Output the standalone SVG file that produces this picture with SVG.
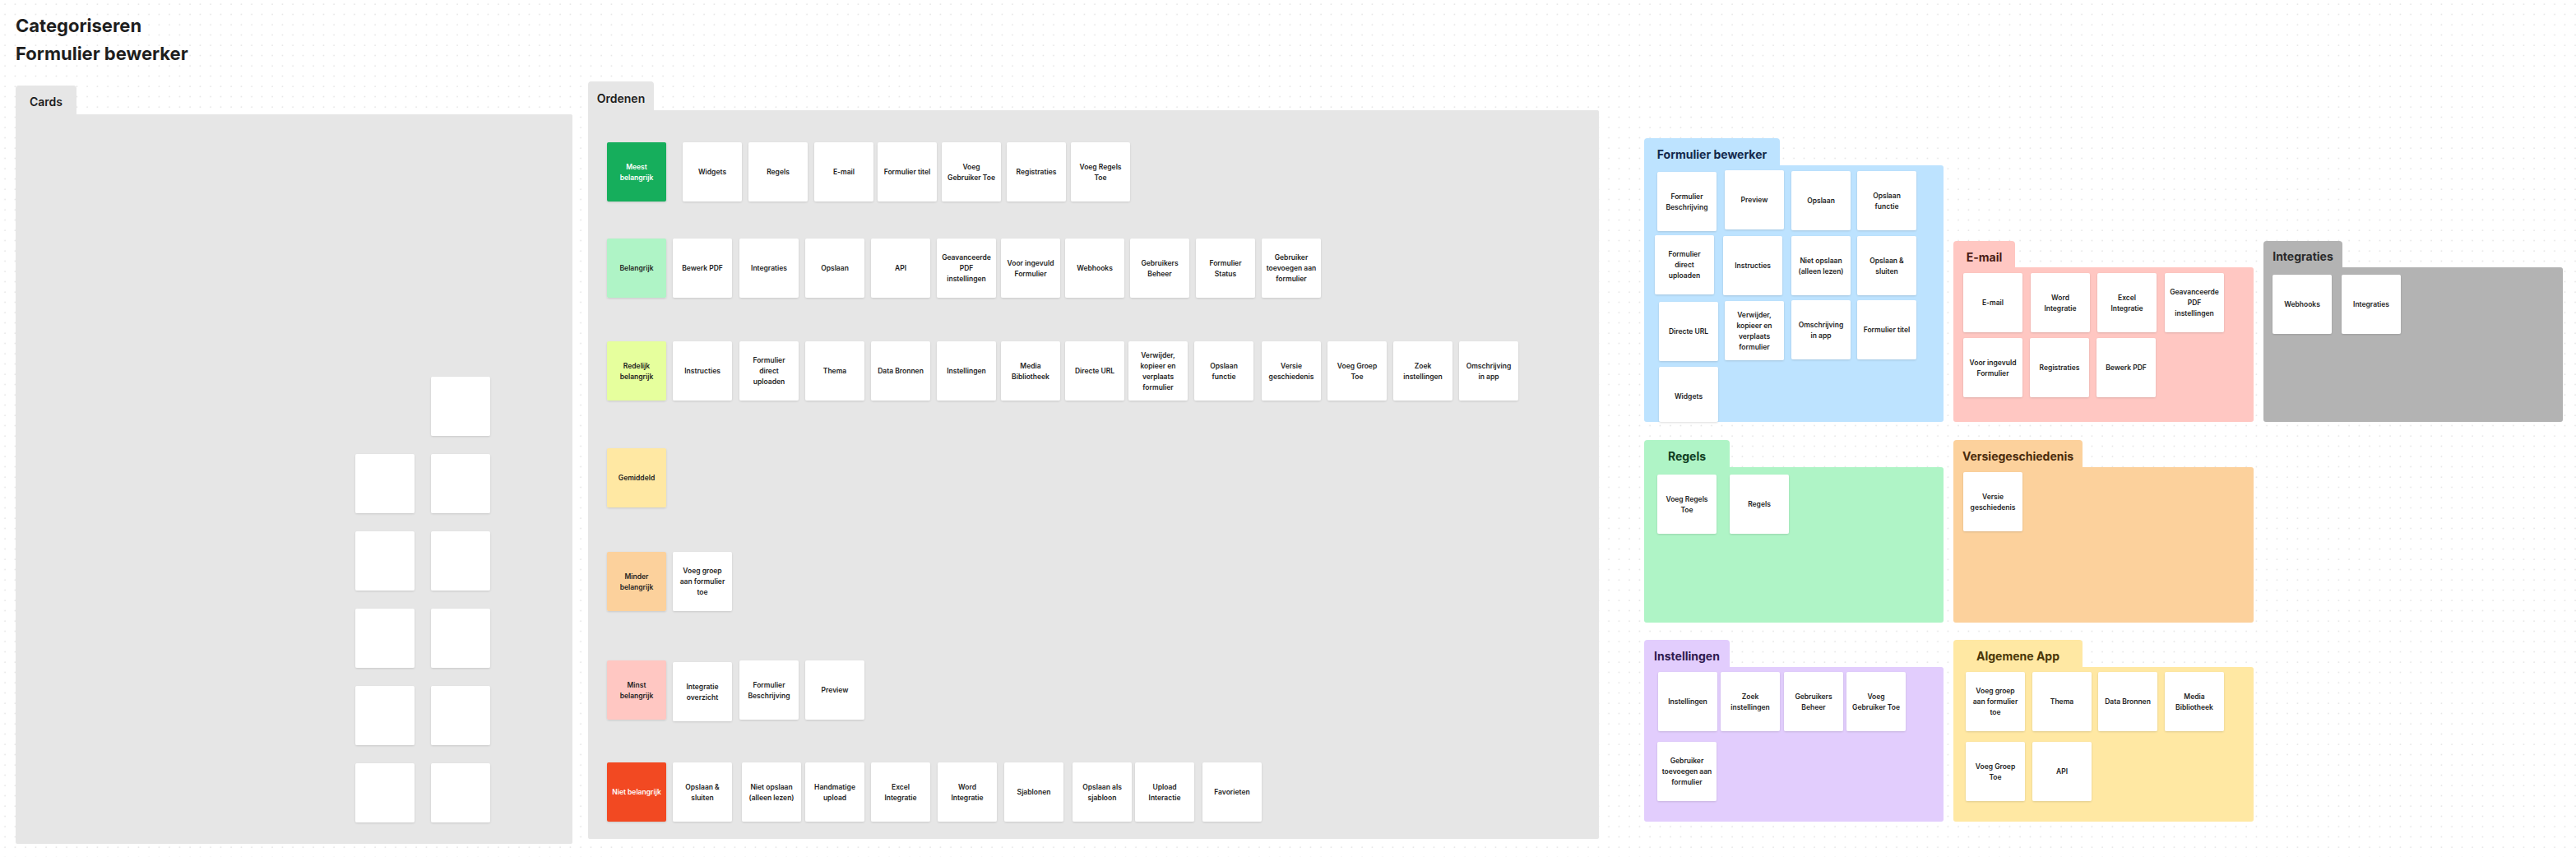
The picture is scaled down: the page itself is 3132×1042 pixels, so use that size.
<svg xmlns="http://www.w3.org/2000/svg" width="3132" height="1042" viewBox="0 0 3132 1042">
<defs>
<pattern id="dots" width="12.5" height="12.5" patternUnits="userSpaceOnUse"><circle cx="6" cy="5" r="0.75" fill="#d6d6d6"/></pattern>
<filter id="sh" x="-15%" y="-15%" width="130%" height="135%"><feDropShadow dx="0" dy="1" stdDeviation="1.2" flood-color="#000" flood-opacity="0.13"/></filter>
</defs>
<style>
.card{fill:#ffffff;filter:url(#sh)}
.lab{filter:url(#sh)}
.t{font-family:Inter,"Noto Sans","Liberation Sans",sans-serif;font-size:8.5px;font-weight:600;fill:#1e1e1e;text-anchor:middle}
.tw{fill:#ffffff}
.h1{font-family:Inter,"Noto Sans","Liberation Sans",sans-serif;font-size:22px;font-weight:700;fill:#1e1e1e}
.gs{fill:#e6e6e6}
.st{font-family:Inter,"Noto Sans","Liberation Sans",sans-serif;font-size:14px;font-weight:600;fill:#1e1e1e;text-anchor:middle}
.ct{font-family:Inter,"Noto Sans","Liberation Sans",sans-serif;font-size:14px;font-weight:700;text-anchor:middle}
</style>
<rect width="3132" height="1042" fill="#ffffff"/>
<rect width="3132" height="1042" fill="url(#dots)"/>

<g id="titles">
<text class="h1" x="19" y="39">Categoriseren</text>
<text class="h1" x="19" y="72.5">Formulier bewerker</text>
</g>

<!-- Cards section -->
<g id="sec-cards">
<rect class="gs" x="19" y="104" width="74" height="40" rx="4"/>
<rect class="gs" x="19" y="139" width="677" height="887" rx="2"/>
<text class="st" x="56" y="129">Cards</text>
</g>
<g id="cards-blank">
<rect class="card" x="524" y="458" width="72" height="72" rx="2"/>
<rect class="card" x="432" y="552" width="72" height="72" rx="2"/>
<rect class="card" x="524" y="552" width="72" height="72" rx="2"/>
<rect class="card" x="432" y="646" width="72" height="72" rx="2"/>
<rect class="card" x="524" y="646" width="72" height="72" rx="2"/>
<rect class="card" x="432" y="740" width="72" height="72" rx="2"/>
<rect class="card" x="524" y="740" width="72" height="72" rx="2"/>
<rect class="card" x="432" y="834" width="72" height="72" rx="2"/>
<rect class="card" x="524" y="834" width="72" height="72" rx="2"/>
<rect class="card" x="432" y="928" width="72" height="72" rx="2"/>
<rect class="card" x="524" y="928" width="72" height="72" rx="2"/>
</g>

<!-- Ordenen section -->
<g id="sec-ordenen">
<rect class="gs" x="715" y="99" width="80" height="40" rx="4"/>
<rect class="gs" x="715" y="134" width="1229" height="886" rx="2"/>
<text class="st" x="755" y="125">Ordenen</text>
</g>

<g id="o-r1">
<g id="o-meest"><rect class="lab" x="738" y="173" width="72" height="72" rx="2" fill="#14ae5c"/><text class="t tw"><tspan x="774" y="205.5">Meest</tspan><tspan x="774" y="218.5">belangrijk</tspan></text></g>
<g id="o-widgets"><rect class="card" x="830" y="173" width="72" height="72" rx="2"/><text class="t" x="866" y="212">Widgets</text></g>
<g id="o-regels"><rect class="card" x="910" y="173" width="72" height="72" rx="2"/><text class="t" x="946" y="212">Regels</text></g>
<g id="o-email"><rect class="card" x="990" y="173" width="72" height="72" rx="2"/><text class="t" x="1026" y="212">E-mail</text></g>
<g id="o-formtitel"><rect class="card" x="1067" y="173" width="72" height="72" rx="2"/><text class="t" x="1103" y="212">Formulier titel</text></g>
<g id="o-voeggebr"><rect class="card" x="1145" y="173" width="72" height="72" rx="2"/><text class="t"><tspan x="1181" y="205.5">Voeg</tspan><tspan x="1181" y="218.5">Gebruiker Toe</tspan></text></g>
<g id="o-registraties"><rect class="card" x="1224" y="173" width="72" height="72" rx="2"/><text class="t" x="1260" y="212">Registraties</text></g>
<g id="o-voegregels"><rect class="card" x="1302" y="173" width="72" height="72" rx="2"/><text class="t"><tspan x="1338" y="205.5">Voeg Regels</tspan><tspan x="1338" y="218.5">Toe</tspan></text></g>
</g>

<g id="o-r2">
<g id="o-belangrijk"><rect class="lab" x="738" y="290" width="72" height="72" rx="2" fill="#aff4c6"/><text class="t" x="774" y="329">Belangrijk</text></g>
<g id="o-bewerkpdf"><rect class="card" x="818" y="290" width="72" height="72" rx="2"/><text class="t" x="854" y="329">Bewerk PDF</text></g>
<g id="o-integraties"><rect class="card" x="899" y="290" width="72" height="72" rx="2"/><text class="t" x="935" y="329">Integraties</text></g>
<g id="o-opslaan"><rect class="card" x="979" y="290" width="72" height="72" rx="2"/><text class="t" x="1015" y="329">Opslaan</text></g>
<g id="o-api"><rect class="card" x="1059" y="290" width="72" height="72" rx="2"/><text class="t" x="1095" y="329">API</text></g>
<g id="o-geavpdf"><rect class="card" x="1139" y="290" width="72" height="72" rx="2"/><text class="t"><tspan x="1175" y="316">Geavanceerde</tspan><tspan x="1175" y="329">PDF</tspan><tspan x="1175" y="342">instellingen</tspan></text></g>
<g id="o-vooringevuld"><rect class="card" x="1217" y="290" width="72" height="72" rx="2"/><text class="t"><tspan x="1253" y="322.5">Voor ingevuld</tspan><tspan x="1253" y="335.5">Formulier</tspan></text></g>
<g id="o-webhooks"><rect class="card" x="1295" y="290" width="72" height="72" rx="2"/><text class="t" x="1331" y="329">Webhooks</text></g>
<g id="o-gebrbeheer"><rect class="card" x="1374" y="290" width="72" height="72" rx="2"/><text class="t"><tspan x="1410" y="322.5">Gebruikers</tspan><tspan x="1410" y="335.5">Beheer</tspan></text></g>
<g id="o-formstatus"><rect class="card" x="1454" y="290" width="72" height="72" rx="2"/><text class="t"><tspan x="1490" y="322.5">Formulier</tspan><tspan x="1490" y="335.5">Status</tspan></text></g>
<g id="o-gebrtoev"><rect class="card" x="1534" y="290" width="72" height="72" rx="2"/><text class="t"><tspan x="1570" y="316">Gebruiker</tspan><tspan x="1570" y="329">toevoegen aan</tspan><tspan x="1570" y="342">formulier</tspan></text></g>
</g>

<g id="o-r3">
<g id="o-redelijk"><rect class="lab" x="738" y="415" width="72" height="72" rx="2" fill="#e6ff9d"/><text class="t"><tspan x="774" y="447.5">Redelijk</tspan><tspan x="774" y="460.5">belangrijk</tspan></text></g>
<g id="o-instructies"><rect class="card" x="818" y="415" width="72" height="72" rx="2"/><text class="t" x="854" y="454">Instructies</text></g>
<g id="o-formdirect"><rect class="card" x="899" y="415" width="72" height="72" rx="2"/><text class="t"><tspan x="935" y="441">Formulier</tspan><tspan x="935" y="454">direct</tspan><tspan x="935" y="467">uploaden</tspan></text></g>
<g id="o-thema"><rect class="card" x="979" y="415" width="72" height="72" rx="2"/><text class="t" x="1015" y="454">Thema</text></g>
<g id="o-databronnen"><rect class="card" x="1059" y="415" width="72" height="72" rx="2"/><text class="t" x="1095" y="454">Data Bronnen</text></g>
<g id="o-instellingen"><rect class="card" x="1139" y="415" width="72" height="72" rx="2"/><text class="t" x="1175" y="454">Instellingen</text></g>
<g id="o-media"><rect class="card" x="1217" y="415" width="72" height="72" rx="2"/><text class="t"><tspan x="1253" y="447.5">Media</tspan><tspan x="1253" y="460.5">Bibliotheek</tspan></text></g>
<g id="o-directeurl"><rect class="card" x="1295" y="415" width="72" height="72" rx="2"/><text class="t" x="1331" y="454">Directe URL</text></g>
<g id="o-verwijder"><rect class="card" x="1372" y="415" width="72" height="72" rx="2"/><text class="t"><tspan x="1408" y="434.5">Verwijder,</tspan><tspan x="1408" y="447.5">kopieer en</tspan><tspan x="1408" y="460.5">verplaats</tspan><tspan x="1408" y="473.5">formulier</tspan></text></g>
<g id="o-opslaanfunctie"><rect class="card" x="1452" y="415" width="72" height="72" rx="2"/><text class="t"><tspan x="1488" y="447.5">Opslaan</tspan><tspan x="1488" y="460.5">functie</tspan></text></g>
<g id="o-versie"><rect class="card" x="1534" y="415" width="72" height="72" rx="2"/><text class="t"><tspan x="1570" y="447.5">Versie</tspan><tspan x="1570" y="460.5">geschiedenis</tspan></text></g>
<g id="o-voeggroep"><rect class="card" x="1614" y="415" width="72" height="72" rx="2"/><text class="t"><tspan x="1650" y="447.5">Voeg Groep</tspan><tspan x="1650" y="460.5">Toe</tspan></text></g>
<g id="o-zoek"><rect class="card" x="1694" y="415" width="72" height="72" rx="2"/><text class="t"><tspan x="1730" y="447.5">Zoek</tspan><tspan x="1730" y="460.5">instellingen</tspan></text></g>
<g id="o-omschrijving"><rect class="card" x="1774" y="415" width="72" height="72" rx="2"/><text class="t"><tspan x="1810" y="447.5">Omschrijving</tspan><tspan x="1810" y="460.5">in app</tspan></text></g>
</g>

<g id="o-r4">
<g id="o-gemiddeld"><rect class="lab" x="738" y="545" width="72" height="72" rx="2" fill="#ffe8a3"/><text class="t" x="774" y="584">Gemiddeld</text></g>
</g>

<g id="o-r5">
<g id="o-minder"><rect class="lab" x="738" y="671" width="72" height="72" rx="2" fill="#fcd19c"/><text class="t"><tspan x="774" y="703.5">Minder</tspan><tspan x="774" y="716.5">belangrijk</tspan></text></g>
<g id="o-voeggroepaan"><rect class="card" x="818" y="671" width="72" height="72" rx="2"/><text class="t"><tspan x="854" y="697">Voeg groep</tspan><tspan x="854" y="710">aan formulier</tspan><tspan x="854" y="723">toe</tspan></text></g>
</g>

<g id="o-r6">
<g id="o-minst"><rect class="lab" x="738" y="803" width="72" height="72" rx="2" fill="#ffc7c2"/><text class="t"><tspan x="774" y="835.5">Minst</tspan><tspan x="774" y="848.5">belangrijk</tspan></text></g>
<g id="o-integratieovz"><rect class="card" x="818" y="805" width="72" height="72" rx="2"/><text class="t"><tspan x="854" y="837.5">Integratie</tspan><tspan x="854" y="850.5">overzicht</tspan></text></g>
<g id="o-formbeschr"><rect class="card" x="899" y="803" width="72" height="72" rx="2"/><text class="t"><tspan x="935" y="835.5">Formulier</tspan><tspan x="935" y="848.5">Beschrijving</tspan></text></g>
<g id="o-preview"><rect class="card" x="979" y="803" width="72" height="72" rx="2"/><text class="t" x="1015" y="842">Preview</text></g>
</g>

<g id="o-r7">
<g id="o-niet"><rect class="lab" x="738" y="927" width="72" height="72" rx="2" fill="#f24822"/><text class="t tw" x="774" y="966">Niet belangrijk</text></g>
<g id="o-opslaansluiten"><rect class="card" x="818" y="927" width="72" height="72" rx="2"/><text class="t"><tspan x="854" y="959.5">Opslaan &amp;</tspan><tspan x="854" y="972.5">sluiten</tspan></text></g>
<g id="o-nietopslaan"><rect class="card" x="902" y="927" width="72" height="72" rx="2"/><text class="t"><tspan x="938" y="959.5">Niet opslaan</tspan><tspan x="938" y="972.5">(alleen lezen)</tspan></text></g>
<g id="o-handmatig"><rect class="card" x="979" y="927" width="72" height="72" rx="2"/><text class="t"><tspan x="1015" y="959.5">Handmatige</tspan><tspan x="1015" y="972.5">upload</tspan></text></g>
<g id="o-excel"><rect class="card" x="1059" y="927" width="72" height="72" rx="2"/><text class="t"><tspan x="1095" y="959.5">Excel</tspan><tspan x="1095" y="972.5">Integratie</tspan></text></g>
<g id="o-word"><rect class="card" x="1140" y="927" width="72" height="72" rx="2"/><text class="t"><tspan x="1176" y="959.5">Word</tspan><tspan x="1176" y="972.5">Integratie</tspan></text></g>
<g id="o-sjablonen"><rect class="card" x="1221" y="927" width="72" height="72" rx="2"/><text class="t" x="1257" y="966">Sjablonen</text></g>
<g id="o-opslaanals"><rect class="card" x="1304" y="927" width="72" height="72" rx="2"/><text class="t"><tspan x="1340" y="959.5">Opslaan als</tspan><tspan x="1340" y="972.5">sjabloon</tspan></text></g>
<g id="o-upload"><rect class="card" x="1380" y="927" width="72" height="72" rx="2"/><text class="t"><tspan x="1416" y="959.5">Upload</tspan><tspan x="1416" y="972.5">Interactie</tspan></text></g>
<g id="o-favorieten"><rect class="card" x="1462" y="927" width="72" height="72" rx="2"/><text class="t" x="1498" y="966">Favorieten</text></g>
</g>

<!-- Formulier bewerker (blue) -->
<g id="sec-formbewerker">
<rect x="1999" y="168" width="165" height="40" rx="4" fill="#bde3ff"/>
<rect x="1999" y="201" width="364" height="312" rx="3" fill="#bde3ff"/>
<text class="ct" x="2081.5" y="193" fill="#13294b">Formulier bewerker</text>
<g id="fb-beschr"><rect class="card" x="2015" y="209" width="72" height="72" rx="2"/><text class="t"><tspan x="2051" y="241.5">Formulier</tspan><tspan x="2051" y="254.5">Beschrijving</tspan></text></g>
<g id="fb-preview"><rect class="card" x="2097" y="207" width="72" height="72" rx="2"/><text class="t" x="2133" y="246">Preview</text></g>
<g id="fb-opslaan"><rect class="card" x="2178" y="208" width="72" height="72" rx="2"/><text class="t" x="2214" y="247">Opslaan</text></g>
<g id="fb-opslaanfunctie"><rect class="card" x="2258" y="208" width="72" height="72" rx="2"/><text class="t"><tspan x="2294" y="240.5">Opslaan</tspan><tspan x="2294" y="253.5">functie</tspan></text></g>
<g id="fb-direct"><rect class="card" x="2012" y="286" width="72" height="72" rx="2"/><text class="t"><tspan x="2048" y="312">Formulier</tspan><tspan x="2048" y="325">direct</tspan><tspan x="2048" y="338">uploaden</tspan></text></g>
<g id="fb-instructies"><rect class="card" x="2095" y="287" width="72" height="72" rx="2"/><text class="t" x="2131" y="326">Instructies</text></g>
<g id="fb-nietopslaan"><rect class="card" x="2178" y="287" width="72" height="72" rx="2"/><text class="t"><tspan x="2214" y="319.5">Niet opslaan</tspan><tspan x="2214" y="332.5">(alleen lezen)</tspan></text></g>
<g id="fb-opslaansluiten"><rect class="card" x="2258" y="287" width="72" height="72" rx="2"/><text class="t"><tspan x="2294" y="319.5">Opslaan &amp;</tspan><tspan x="2294" y="332.5">sluiten</tspan></text></g>
<g id="fb-directeurl"><rect class="card" x="2017" y="367" width="72" height="72" rx="2"/><text class="t" x="2053" y="406">Directe URL</text></g>
<g id="fb-verwijder"><rect class="card" x="2097" y="366" width="72" height="72" rx="2"/><text class="t"><tspan x="2133" y="385.5">Verwijder,</tspan><tspan x="2133" y="398.5">kopieer en</tspan><tspan x="2133" y="411.5">verplaats</tspan><tspan x="2133" y="424.5">formulier</tspan></text></g>
<g id="fb-omschrijving"><rect class="card" x="2178" y="365" width="72" height="72" rx="2"/><text class="t"><tspan x="2214" y="397.5">Omschrijving</tspan><tspan x="2214" y="410.5">in app</tspan></text></g>
<g id="fb-formtitel"><rect class="card" x="2258" y="365" width="72" height="72" rx="2"/><text class="t" x="2294" y="404">Formulier titel</text></g>
<g id="fb-widgets"><rect class="card" x="2017" y="446" width="72" height="67" rx="2"/><text class="t" x="2053" y="485">Widgets</text></g>
</g>

<!-- E-mail (red) -->
<g id="sec-email">
<rect x="2375" y="293" width="75" height="40" rx="4" fill="#ffc7c2"/>
<rect x="2375" y="325" width="365" height="188" rx="3" fill="#ffc7c2"/>
<text class="ct" x="2412.5" y="318" fill="#4a1a14">E-mail</text>
<g id="em-email"><rect class="card" x="2387" y="332" width="72" height="72" rx="2"/><text class="t" x="2423" y="371">E-mail</text></g>
<g id="em-word"><rect class="card" x="2469" y="332" width="72" height="72" rx="2"/><text class="t"><tspan x="2505" y="364.5">Word</tspan><tspan x="2505" y="377.5">Integratie</tspan></text></g>
<g id="em-excel"><rect class="card" x="2550" y="332" width="72" height="72" rx="2"/><text class="t"><tspan x="2586" y="364.5">Excel</tspan><tspan x="2586" y="377.5">Integratie</tspan></text></g>
<g id="em-geavpdf"><rect class="card" x="2632" y="332" width="72" height="72" rx="2"/><text class="t"><tspan x="2668" y="358">Geavanceerde</tspan><tspan x="2668" y="371">PDF</tspan><tspan x="2668" y="384">instellingen</tspan></text></g>
<g id="em-vooringevuld"><rect class="card" x="2387" y="411" width="72" height="72" rx="2"/><text class="t"><tspan x="2423" y="443.5">Voor ingevuld</tspan><tspan x="2423" y="456.5">Formulier</tspan></text></g>
<g id="em-registraties"><rect class="card" x="2468" y="411" width="72" height="72" rx="2"/><text class="t" x="2504" y="450">Registraties</text></g>
<g id="em-bewerkpdf"><rect class="card" x="2549" y="411" width="72" height="72" rx="2"/><text class="t" x="2585" y="450">Bewerk PDF</text></g>
</g>

<!-- Integraties (grey) -->
<g id="sec-integraties">
<rect x="2752" y="293" width="96" height="40" rx="4" fill="#b3b3b3"/>
<rect x="2752" y="325" width="364" height="188" rx="3" fill="#b3b3b3"/>
<text class="ct" x="2800" y="317" fill="#2a2a2a">Integraties</text>
<g id="in-webhooks"><rect class="card" x="2763" y="334" width="72" height="72" rx="2"/><text class="t" x="2799" y="373">Webhooks</text></g>
<g id="in-integraties"><rect class="card" x="2847" y="334" width="72" height="72" rx="2"/><text class="t" x="2883" y="373">Integraties</text></g>
</g>

<!-- Regels (green) -->
<g id="sec-regels">
<rect x="1999" y="535" width="104" height="40" rx="4" fill="#aff4c6"/>
<rect x="1999" y="568" width="364" height="189" rx="3" fill="#aff4c6"/>
<text class="ct" x="2051" y="560" fill="#0f3d22">Regels</text>
<g id="rg-voegregels"><rect class="card" x="2015" y="577" width="72" height="72" rx="2"/><text class="t"><tspan x="2051" y="609.5">Voeg Regels</tspan><tspan x="2051" y="622.5">Toe</tspan></text></g>
<g id="rg-regels"><rect class="card" x="2103" y="577" width="72" height="72" rx="2"/><text class="t" x="2139" y="616">Regels</text></g>
</g>

<!-- Versiegeschiedenis (orange) -->
<g id="sec-versie">
<rect x="2375" y="535" width="157" height="40" rx="4" fill="#fcd19c"/>
<rect x="2375" y="568" width="365" height="189" rx="3" fill="#fcd19c"/>
<text class="ct" x="2453.5" y="560" fill="#4a2b0c">Versiegeschiedenis</text>
<g id="vs-versie"><rect class="card" x="2387" y="574" width="72" height="72" rx="2"/><text class="t"><tspan x="2423" y="606.5">Versie</tspan><tspan x="2423" y="619.5">geschiedenis</tspan></text></g>
</g>

<!-- Instellingen (purple) -->
<g id="sec-instellingen">
<rect x="1999" y="778" width="104" height="40" rx="4" fill="#e2cdfd"/>
<rect x="1999" y="811" width="364" height="188" rx="3" fill="#e2cdfd"/>
<text class="ct" x="2051" y="803" fill="#2f1a4f">Instellingen</text>
<g id="is-instellingen"><rect class="card" x="2016" y="817" width="72" height="72" rx="2"/><text class="t" x="2052" y="856">Instellingen</text></g>
<g id="is-zoek"><rect class="card" x="2092" y="817" width="72" height="72" rx="2"/><text class="t"><tspan x="2128" y="849.5">Zoek</tspan><tspan x="2128" y="862.5">instellingen</tspan></text></g>
<g id="is-gebrbeheer"><rect class="card" x="2169" y="817" width="72" height="72" rx="2"/><text class="t"><tspan x="2205" y="849.5">Gebruikers</tspan><tspan x="2205" y="862.5">Beheer</tspan></text></g>
<g id="is-voeggebr"><rect class="card" x="2245" y="817" width="72" height="72" rx="2"/><text class="t"><tspan x="2281" y="849.5">Voeg</tspan><tspan x="2281" y="862.5">Gebruiker Toe</tspan></text></g>
<g id="is-gebrtoev"><rect class="card" x="2015" y="902" width="72" height="72" rx="2"/><text class="t"><tspan x="2051" y="928">Gebruiker</tspan><tspan x="2051" y="941">toevoegen aan</tspan><tspan x="2051" y="954">formulier</tspan></text></g>
</g>

<!-- Algemene App (yellow) -->
<g id="sec-algemeen">
<rect x="2375" y="778" width="157" height="40" rx="4" fill="#ffe8a3"/>
<rect x="2375" y="811" width="365" height="188" rx="3" fill="#ffe8a3"/>
<text class="ct" x="2453.5" y="803" fill="#4a3608">Algemene App</text>
<g id="al-voeggroepaan"><rect class="card" x="2390" y="817" width="72" height="72" rx="2"/><text class="t"><tspan x="2426" y="843">Voeg groep</tspan><tspan x="2426" y="856">aan formulier</tspan><tspan x="2426" y="869">toe</tspan></text></g>
<g id="al-thema"><rect class="card" x="2471" y="817" width="72" height="72" rx="2"/><text class="t" x="2507" y="856">Thema</text></g>
<g id="al-databronnen"><rect class="card" x="2551" y="817" width="72" height="72" rx="2"/><text class="t" x="2587" y="856">Data Bronnen</text></g>
<g id="al-media"><rect class="card" x="2632" y="817" width="72" height="72" rx="2"/><text class="t"><tspan x="2668" y="849.5">Media</tspan><tspan x="2668" y="862.5">Bibliotheek</tspan></text></g>
<g id="al-voeggroep"><rect class="card" x="2390" y="902" width="72" height="72" rx="2"/><text class="t"><tspan x="2426" y="934.5">Voeg Groep</tspan><tspan x="2426" y="947.5">Toe</tspan></text></g>
<g id="al-api"><rect class="card" x="2471" y="902" width="72" height="72" rx="2"/><text class="t" x="2507" y="941">API</text></g>
</g>

<g id="connectors"></g>
</svg>
